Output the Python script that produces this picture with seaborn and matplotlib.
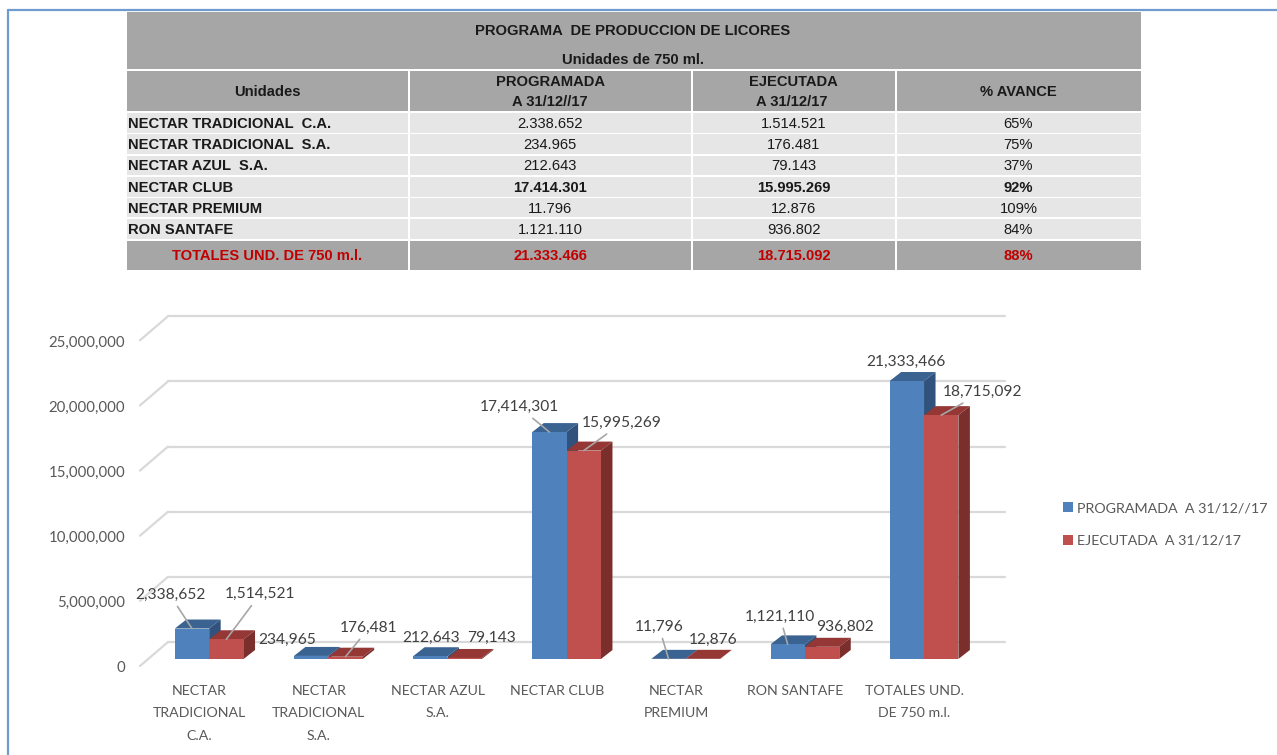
import matplotlib
matplotlib.use('Agg')
import matplotlib.pyplot as plt
from matplotlib.patches import Rectangle, Polygon
from matplotlib.transforms import ScaledTranslation
import pandas as pd
import seaborn as sns

# datos de la tabla / grafico
unidades = ['NECTAR TRADICIONAL  C.A.', 'NECTAR TRADICIONAL  S.A.', 'NECTAR AZUL  S.A.',
            'NECTAR CLUB', 'NECTAR PREMIUM', 'RON SANTAFE', 'TOTALES UND. DE 750 m.l.']
etiquetas_x = ['NECTAR\nTRADICIONAL\nC.A.', 'NECTAR\nTRADICIONAL\nS.A.', 'NECTAR AZUL\nS.A.',
               'NECTAR CLUB', 'NECTAR\nPREMIUM', 'RON SANTAFE', 'TOTALES UND.\nDE 750 m.l.']
programada = [2338652, 234965, 212643, 17414301, 11796, 1121110, 21333466]
ejecutada = [1514521, 176481, 79143, 15995269, 12876, 936802, 18715092]
avance = ['65%', '75%', '37%', '92%', '109%', '84%', '88%']
serie_prog = 'PROGRAMADA  A 31/12//17'
serie_ejec = 'EJECUTADA  A 31/12/17'
yticks = [0, 5000000, 10000000, 15000000, 20000000, 25000000]

# posicion de las etiquetas respecto a cada barra (pixeles) y si llevan guia
offs_prog = [(-22, 33.5), (-24, 16), (1, 18), (-30, 25), (-9.6, 32), (-7.7, 27.7), (-1, 19.3)]
guia_prog = [True, False, False, True, True, True, False]
offs_ejec = [(33.6, 45), (23.5, 28.7), (27.3, 20), (38.2, 27.6), (10.6, 19), (23.3, 19.8), (41.4, 23)]
guia_ejec = [True, True, False, True, False, False, True]

W, H = 1277, 755
LEFT, RIGHT, BASE = 149.6, 983.6, 659
PX_POR_UNIDAD = 13.03e-6
DX, DY = 11.5, 9         # profundidad de las barras
WALL_DY = 17             # pared del fondo respecto a la base de las barras

GRIS = '#a6a6a6'
CLARO = '#e6e6e6'
ROJO = '#c00000'
TXT = '#1a1a1a'
TXT_CHART = '#595959'
TXT_DATOS = '#404040'
GRID = '#d9d9d9'
AZUL = ('#4f81bd', '#3b6391', '#30527c')
GRANATE = ('#c0504d', '#943735', '#7a2f2d')

sns.set_theme(style='white')
plt.rcParams['font.family'] = ['Lato', 'DejaVu Sans']

fig = plt.figure(figsize=(W / 100, H / 100), dpi=100, facecolor='white')

# --- tabla, en pixeles de la imagen ---
bg = fig.add_axes([0, 0, 1, 1], zorder=0)
bg.set_xlim(0, W)
bg.set_ylim(H, 0)
bg.axis('off')

# marco azul
bg.plot([8, 8], [H, 10], color='#6f9bd1', lw=1.6)
bg.plot([8, W], [10, 10], color='#6f9bd1', lw=1.6)


def celda(x0, x1, y0, y1, color):
    bg.add_patch(Rectangle((x0, y0), x1 - x0, y1 - y0, facecolor=color, edgecolor='none'))


def texto(x, y, s, bold=False, color=TXT, ha='center', size=10.6):
    bg.text(x, y + 1, s, ha=ha, va='center', fontsize=size, color=color,
            family='Liberation Sans', fontweight='bold' if bold else 'normal')


cols = [(126.5, 408), (409.5, 691), (692.5, 895), (896.5, 1140.5)]
filas = [(112.7, 132.7), (134.3, 154), (155.7, 175.3), (177, 196.7), (198, 217.3), (219, 239)]
fila_total = (240.7, 270.3)

celda(126.5, 1140.5, 12, 69, GRIS)
texto(633, 30, 'PROGRAMA  DE PRODUCCION DE LICORES', bold=True)
texto(633, 59, 'Unidades de 750 ml.', bold=True)

for x0, x1 in cols:
    celda(x0, x1, 71, 111, GRIS)
    celda(x0, x1, fila_total[0], fila_total[1], GRIS)
    for y0, y1 in filas:
        celda(x0, x1, y0, y1, CLARO)

centros = [(x0 + x1) / 2 for x0, x1 in cols]
texto(centros[0], 91, 'Unidades', bold=True)
texto(centros[1], 81, 'PROGRAMADA', bold=True)
texto(centros[1], 101, 'A 31/12//17', bold=True)
texto(centros[2], 81, 'EJECUTADA', bold=True)
texto(centros[2] - 2, 101, 'A 31/12/17', bold=True)
texto(centros[3], 91, '% AVANCE', bold=True)


def miles(v):
    return f'{v:,}'.replace(',', '.')


for i, (y0, y1) in enumerate(filas):
    ym = (y0 + y1) / 2
    negrita = unidades[i] == 'NECTAR CLUB'
    texto(127.5, ym, unidades[i], bold=True, ha='left')
    texto(centros[1], ym, miles(programada[i]), bold=negrita)
    texto(centros[2], ym, miles(ejecutada[i]), bold=negrita)
    texto(centros[3], ym, avance[i], bold=negrita)

ym = sum(fila_total) / 2
texto(centros[0], ym, unidades[6], bold=True, color=ROJO)
texto(centros[1], ym, miles(programada[6]), bold=True, color=ROJO)
texto(centros[2], ym, miles(ejecutada[6]), bold=True, color=ROJO)
texto(centros[3], ym, avance[6], bold=True, color=ROJO)

# --- grafico ---
alto_px = 25000000 * PX_POR_UNIDAD
ax = fig.add_axes([LEFT / W, (H - BASE) / H, (RIGHT - LEFT) / W, alto_px / H], zorder=1)
ax.patch.set_alpha(0)

df = pd.DataFrame({
    'unidad': etiquetas_x * 2,
    'valor': programada + ejecutada,
    'serie': [serie_prog] * 7 + [serie_ejec] * 7,
})
sns.barplot(data=df, x='unidad', y='valor', hue='serie', ax=ax, width=0.577, gap=0,
            saturation=1, palette=[AZUL[0], GRANATE[0]], zorder=3, linewidth=0)
sns.despine(ax=ax, left=True, bottom=True)
ax.set_xlim(-0.5, 6.5)
ax.set_ylim(0, 25000000)
ax.set_xlabel('')
ax.set_ylabel('')

# pasar de pixeles a unidades de datos
ux = 7 / (RIGHT - LEFT)
uy = 1 / PX_POR_UNIDAD

# pared del fondo y lineas laterales
for v in yticks:
    y = v + WALL_DY * uy
    ax.plot([-0.5 + (168 - LEFT) * ux, -0.5 + (1005 - LEFT) * ux], [y, y],
            color=GRID, lw=1.6, zorder=1, clip_on=False)
    ax.plot([-0.5 + (140 - LEFT) * ux, -0.5 + (168 - LEFT) * ux], [v - 7 * uy, y],
            color=GRID, lw=1.6, zorder=1, clip_on=False)

# caras superior y lateral de cada barra
barras = [c for c in ax.containers]
for cont, colores, z in zip(barras, (AZUL, GRANATE), (2, 2.5)):
    for b in cont:
        x0 = b.get_x()
        x1 = x0 + b.get_width()
        top = b.get_height()
        dx = DX * ux
        dy = DY * uy
        ax.add_patch(Polygon([(x0, top), (x1, top), (x1 + dx, top + dy), (x0 + dx, top + dy)],
                             facecolor=colores[1], edgecolor='none', zorder=z, clip_on=False))
        ax.add_patch(Polygon([(x1, 0), (x1 + dx, dy), (x1 + dx, top + dy), (x1, top)],
                             facecolor=colores[2], edgecolor='none', zorder=z, clip_on=False))

# etiquetas de datos
for cont, valores, offs, guias in zip(barras, (programada, ejecutada),
                                      (offs_prog, offs_ejec), (guia_prog, guia_ejec)):
    for b, v, off, guia in zip(cont, valores, offs, guias):
        props = None
        if guia:
            props = dict(arrowstyle='-', color='#a6a6a6', lw=1.2, shrinkA=1, shrinkB=0)
        ax.annotate(f'{v:,}', xy=(b.get_x() + b.get_width() / 2, v), xytext=off,
                    textcoords='offset pixels', ha='center', va='center', fontsize=11.2,
                    color=TXT_DATOS, arrowprops=props, zorder=5, annotation_clip=False)

# ejes: las etiquetas van en el plano delantero del suelo
ax.set_yticks(yticks)
ax.set_yticklabels([f'{v:,}' for v in yticks])
ax.tick_params(axis='y', length=0, pad=17.7, labelsize=10.8, labelcolor=TXT_CHART)
ax.tick_params(axis='x', length=0, pad=18.5, labelsize=10.2, labelcolor=TXT_CHART)
for lab in ax.get_yticklabels():
    lab.set_transform(lab.get_transform() + ScaledTranslation(0, -8 / 100, fig.dpi_scale_trans))
for lab in ax.get_xticklabels():
    lab.set_linespacing(2.05)
    lab.set_transform(lab.get_transform() + ScaledTranslation(-9.5 / 100, 0, fig.dpi_scale_trans))

sns.move_legend(ax, 'center left', bbox_to_anchor=(1063 / W, (H - 524.5) / H),
                bbox_transform=fig.transFigure, frameon=False, title=None,
                borderpad=0, borderaxespad=0, handlelength=0.68, handleheight=0.7,
                handletextpad=0.3, labelspacing=1.45, fontsize=10.3, labelcolor=TXT_CHART)

fig.savefig('out.png', dpi=100)
